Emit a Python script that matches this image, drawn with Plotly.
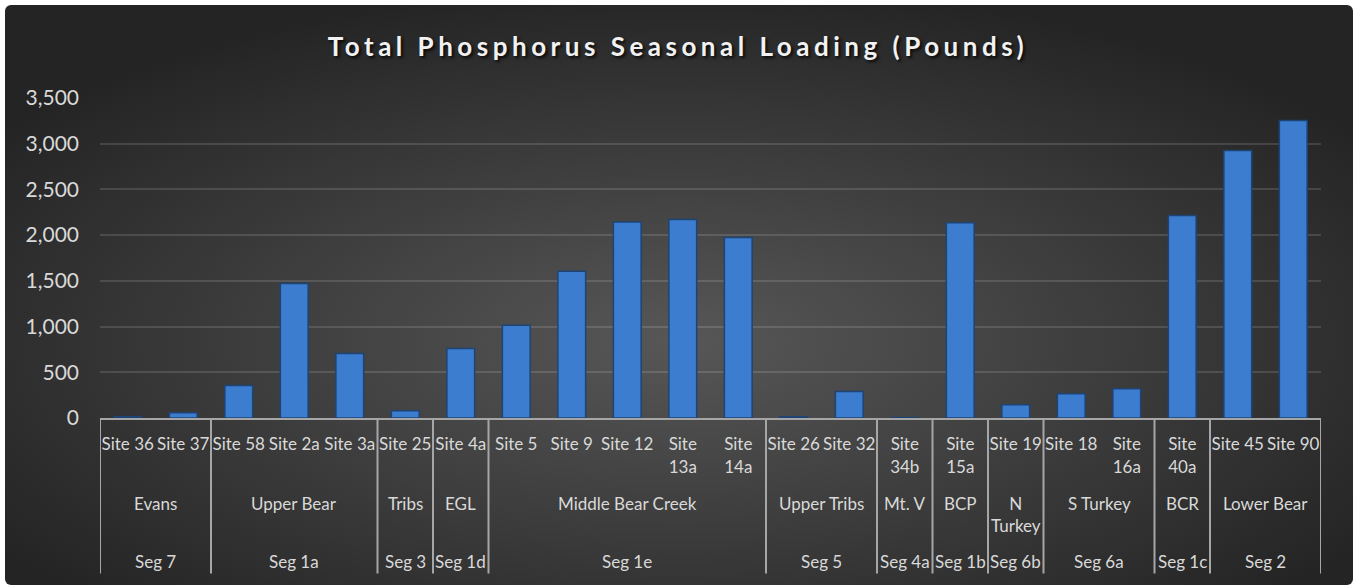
import base64
import plotly.graph_objects as go

# Sites (level 1), their groups (level 2) and segments (level 3)
sites = ['Site 36', 'Site 37', 'Site 58', 'Site 2a', 'Site 3a', 'Site 25', 'Site 4a',
         'Site 5', 'Site 9', 'Site 12', 'Site 13a', 'Site 14a', 'Site 26', 'Site 32',
         'Site 34b', 'Site 15a', 'Site 19', 'Site 18', 'Site 16a', 'Site 40a',
         'Site 45', 'Site 90']
site_labels = ['Site 36', 'Site 37', 'Site 58', 'Site 2a', 'Site 3a', 'Site 25', 'Site 4a',
               'Site 5', 'Site 9', 'Site 12', 'Site<br>13a', 'Site<br>14a', 'Site 26', 'Site 32',
               'Site<br>34b', 'Site<br>15a', 'Site 19', 'Site 18', 'Site<br>16a', 'Site<br>40a',
               'Site 45', 'Site 90']
loading = [15, 57, 355, 1470, 705, 80, 760, 1015, 1605, 2145, 2170, 1975,
           13, 290, 4, 2135, 145, 265, 320, 2215, 2925, 3255]

group_names = ['Evans', 'Upper Bear', 'Tribs', 'EGL', 'Middle Bear Creek', 'Upper Tribs',
               'Mt. V', 'BCP', 'N<br>Turkey', 'S Turkey', 'BCR', 'Lower Bear']
seg_names = ['Seg 7', 'Seg 1a', 'Seg 3', 'Seg 1d', 'Seg 1e', 'Seg 5',
             'Seg 4a', 'Seg 1b', 'Seg 6b', 'Seg 6a', 'Seg 1c', 'Seg 2']
group_sizes = [2, 3, 1, 1, 5, 2, 1, 1, 1, 2, 1, 2]

W, H = 1356, 586
ML, MR, MT, MB = 100, 35, 98, 168
PW, PH = W - ML - MR, H - MT - MB

# dark chart area with a soft radial light spot (like the Excel style)
svg = f'''<svg xmlns="http://www.w3.org/2000/svg" width="{W}" height="{H}" viewBox="0 0 {W} {H}">
<defs><radialGradient id="g" cx="50%" cy="58%" r="62%">
<stop offset="0%" stop-color="#575757"/><stop offset="100%" stop-color="#242424"/>
</radialGradient></defs>
<rect width="{W}" height="{H}" fill="#ffffff"/>
<rect x="5" y="5" width="{W - 8}" height="{H - 6}" rx="6" fill="url(#g)"/>
</svg>'''
bg_src = 'data:image/svg+xml;base64,' + base64.b64encode(svg.encode()).decode()

fig = go.Figure()
fig.add_bar(
    x=sites, y=loading,
    marker=dict(color='#3d7dd0', line=dict(color='#1d4475', width=1.5)),
    showlegend=False,
)

# group / segment dividers and labels
LABEL_COLOR = '#d9d9d9'
line_bottom = (418.5 - 574) / PH
shapes = []
annotations = []
start = 0
for name, seg, size in zip(group_names, seg_names, group_sizes):
    shapes.append(dict(type='line', xref='x', yref='paper', x0=start - 0.5, x1=start - 0.5,
                       y0=0, y1=line_bottom, line=dict(color='#a6a6a6', width=2)))
    center = start + (size - 1) / 2
    annotations.append(dict(x=center, y=(418.5 - 491) / PH, xref='x', yref='paper',
                            text=name, showarrow=False, yanchor='top',
                            font=dict(family='Lato', size=17, color=LABEL_COLOR)))
    annotations.append(dict(x=center, y=(418.5 - 562) / PH, xref='x', yref='paper',
                            text=seg, showarrow=False, yanchor='middle',
                            font=dict(family='Lato', size=17, color=LABEL_COLOR)))
    start += size
shapes.append(dict(type='line', xref='x', yref='paper', x0=start - 0.5, x1=start - 0.5,
                   y0=0, y1=line_bottom, line=dict(color='#a6a6a6', width=2)))

fig.update_layout(
    width=W, height=H,
    margin=dict(l=ML, r=MR, t=MT, b=MB),
    paper_bgcolor='#ffffff',
    plot_bgcolor='rgba(0,0,0,0)',
    bargap=0.5,
    title=dict(
        text='Total Phosphorus Seasonal Loading (Pounds)',
        x=0.5, xref='container', xanchor='center',
        y=1 - 47 / H, yref='container', yanchor='middle',
        font=dict(family='Lato', size=26, color='#f2f2f2', weight='bold',
                  shadow='2px 2px 3px rgba(0,0,0,0.8)'),
    ),
    images=[dict(source=bg_src, xref='paper', yref='paper',
                 x=-ML / PW, y=1 + MT / PH, sizex=W / PW, sizey=H / PH,
                 xanchor='left', yanchor='top', sizing='stretch', layer='below')],
    shapes=shapes,
    annotations=annotations,
    xaxis=dict(
        type='category',
        tickvals=sites, ticktext=site_labels,
        tickfont=dict(family='Lato', size=17, color=LABEL_COLOR),
        showline=True, linecolor='#a6a6a6', linewidth=2,
        showgrid=False, ticks='', tickangle=0,
        ticklabelstandoff=10,
        range=[-0.5, len(sites) - 0.5],
    ),
    yaxis=dict(
        range=[0, 3500], dtick=500, tickformat=',d',
        tickfont=dict(family='Lato', size=21, color=LABEL_COLOR),
        showgrid=True, gridcolor='rgba(255,255,255,0.13)', gridwidth=1.5,
        zeroline=False, showline=False, ticks='',
        ticklabelstandoff=20,
    ),
)

# no page margin, and the spaced-out title lettering of the original
post = ("document.body.style.margin='0';"
        "document.querySelectorAll('.gtitle').forEach(function(t){t.style.letterSpacing='4.5px';});")
fig.write_html('out.html', post_script=post, config={'displayModeBar': False})
